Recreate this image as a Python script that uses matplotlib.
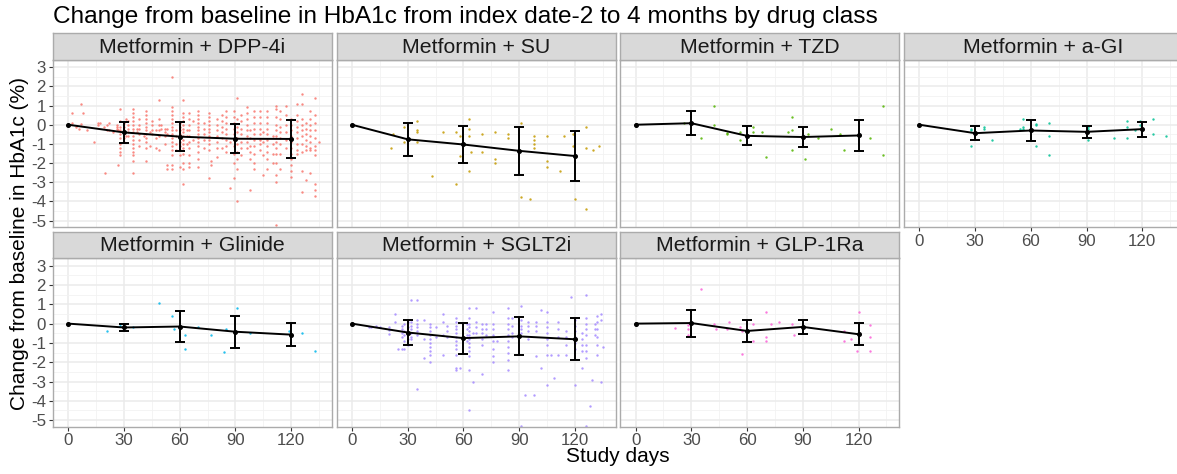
import matplotlib
matplotlib.use("Agg")
import matplotlib.pyplot as plt

plt.rcParams['font.family'] = ['Liberation Sans', 'DejaVu Sans']

# ---------------------------------------------------------------- data
visit_days = [0, 30, 60, 90, 120]

panel_titles = [
    "Metformin + DPP-4i", "Metformin + SU", "Metformin + TZD", "Metformin + a-GI",
    "Metformin + Glinide", "Metformin + SGLT2i", "Metformin + GLP-1Ra",
]
panel_colors = ["#F8766D", "#C49A00", "#53B400", "#00C094", "#00B6EB", "#A58AFF", "#FB61D7"]

# mean change and SD at each visit
dpp4i_mean = [0, -0.40, -0.62, -0.73, -0.74]
dpp4i_sd = [0, 0.55, 0.76, 0.75, 0.98]
su_mean = [0, -0.76, -1.03, -1.36, -1.63]
su_sd = [0, 0.86, 0.96, 1.24, 1.32]
tzd_mean = [0, 0.08, -0.58, -0.64, -0.56]
tzd_sd = [0, 0.63, 0.49, 0.54, 0.79]
agi_mean = [0, -0.44, -0.30, -0.37, -0.23]
agi_sd = [0, 0.37, 0.56, 0.32, 0.39]
glinide_mean = [0, -0.20, -0.15, -0.42, -0.57]
glinide_sd = [0, 0.17, 0.82, 0.82, 0.59]
sglt2i_mean = [0, -0.46, -0.75, -0.66, -0.81]
sglt2i_sd = [0, 0.63, 0.80, 0.99, 1.09]
glp1ra_mean = [0, 0.03, -0.38, -0.17, -0.55]
glp1ra_sd = [0, 0.70, 0.57, 0.38, 0.57]

# individual patient changes: (study day, [changes observed on that day])
dpp4i_pts = [
    (2, [0.6, 0.1]), (4, [-0.1]), (6, [-0.2]), (7, [1.1, 0.05]), (8, [0.6]),
    (10, [-0.25]), (14, [-0.9]), (16, [0.1, 0.0]), (17, [0.1]), (19, [-0.1]),
    (20, [-2.5]), (21, [-0.25, 0.0]), (22, [0.1, -0.3]), (24, [-0.4]),
    (26, [0.0, -0.1, -0.2]), (27, [-2.1, -0.3]),
    (28, [0.8, 0.2, -0.1, -0.3, -0.5, -0.7, -1.0, -1.2, -1.4, -1.6]),
    (30, [0.1, -0.1, -0.3, -0.5, -0.7, -0.9]), (31, [0.3, -0.6]),
    (32, [0.2, 0.0, -0.2, -0.4, -0.6]),
    (35, [0.8, 0.6, 0.4, 0.2, 0.0, -0.2, -0.4, -0.6, -0.8, -1.0, -1.2, -1.4, -1.6, -1.9, -2.5]),
    (37, [-0.2, -0.4]), (38, [0.3, 0.0, -0.2, -0.5, -0.8, -1.1]), (41, [-0.6]),
    (42, [0.7, 0.5, 0.3, 0.1, -0.1, -0.3, -0.5, -0.7, -0.9, -1.2, -1.9]),
    (44, [-1.1, -0.4]), (45, [0.2, 0.0, -0.3, -0.5]), (47, [-0.3, -0.7, -1.2]),
    (49, [1.3, 0.3, 0.0, -0.3, -0.6, -1.3]), (50, [0.0, -0.2]),
    (52, [-0.2, -0.4, -0.6, -1.0]), (53, [-0.2, -0.5, -2.1, -2.3]),
    (56, [2.5, 0.9, 0.7, 0.5, 0.3, 0.1, -0.1, -0.3, -0.5, -0.7, -0.9, -1.1, -1.3, -1.6, -2.1, -2.3]),
    (58, [-0.3, -0.6, -1.0, -1.3]),
    (60, [0.1, -0.1, -0.3, -0.5, -0.7, -0.9, -1.1, -1.3, -1.6, -2.2]),
    (62, [1.3, 0.6, 0.4, 0.2, 0.0, -0.2, -0.4, -0.6, -0.8, -1.0, -1.2, -1.5, -2.0, -2.3, -3.1]),
    (64, [-0.3, -0.6, -1.0]),
    (65, [0.6, 0.3, 0.0, -0.3, -0.6, -0.9, -1.2, -1.6, -2.0, -2.2]), (67, [0.2, -0.8]),
    (70, [0.7, 0.5, 0.3, 0.1, -0.1, -0.3, -0.5, -0.7, -0.9, -1.1, -1.4, -1.8, -2.2]),
    (73, [0.1, -0.2, -0.5, -0.8, -1.2]),
    (76, [0.6, 0.4, 0.2, 0.0, -0.2, -0.4, -0.6, -0.8, -1.0, -1.3, -2.8]), (77, [-1.9, -2.1]),
    (80, [0.3, 0.0, -0.3, -0.6, -0.9, -1.2, -1.7]),
    (83, [0.5, 0.2, -0.1, -0.4, -0.7, -1.2]),
    (85, [0.7, 0.4, 0.1, -0.2, -0.5, -0.8, -1.1, -1.4]), (87, [-3.3, -0.9]),
    (89, [0.7, 0.4, 0.1, -0.2, -0.5, -0.8, -1.1, -1.5, -2.0, -2.8]),
    (91, [1.4, 0.3, -0.1, -0.4, -0.7, -1.0, -1.4, -1.8, -2.3, -4.0]),
    (93, [0.5, 0.2, -0.2, -0.5, -0.9, -1.2, -1.6]),
    (96, [0.9, 0.6, 0.3, 0.0, -0.3, -0.6, -0.9, -1.2]),
    (98, [-0.3, -0.7, -1.1, -1.4, -1.8, -3.4]),
    (100, [0.7, 0.4, 0.1, -0.2, -0.5, -0.8, -1.1, -1.5, -2.0, -2.3]),
    (103, [0.7, 0.4, 0.1, -0.2, -0.5, -0.8, -1.0, -1.3]), (105, [-0.4, -0.9, -1.6, -2.6]),
    (107, [0.7, 0.4, 0.1, -0.2, -0.5, -0.8, -1.1, -1.4, -1.8, -2.3]),
    (110, [-0.6, -1.0, -1.5, -2.0]),
    (112, [1.0, 0.8, 0.4, 0.0, -0.3, -0.6, -0.9, -1.2, -1.5, -2.0, -2.6, -3.0, -5.2]),
    (114, [0.7, 0.3, -0.1, -0.4, -0.7, -1.0, -1.5, -2.3]),
    (117, [1.0, 0.5, 0.0, -0.4, -0.8, -1.2]),
    (120, [0.3, 0.0, -0.3, -0.6, -0.9, -1.2, -1.5, -1.8, -2.1, -2.4, -2.7]),
    (123, [1.1, 0.5, 0.2, -0.1, -0.4, -0.7, -1.0, -1.3, -1.5]),
    (126, [1.6, 1.1, 0.3, 0.0, -0.3, -0.6, -1.0, -1.4, -2.4, -3.5]),
    (128, [0.1, -0.2, -0.5, -0.8, -1.1, -1.3, -2.9]),
    (130, [0.7, 0.3, 0.0, -0.3, -0.6, -0.9, -1.2, -1.3, -2.5]),
    (133, [1.4, 0.5, 0.1, -0.3, -0.7, -1.1, -1.3, -1.6, -3.1, -3.4, -3.7]),
    (135, [-0.9]),
]

su_pts = [
    (21, [-1.19]), (22, [-0.5]), (28, [-0.1, -0.92]), (35, [0.19, -0.29, -0.4, -0.92]),
    (43, [-2.68]), (49, [-0.4]), (56, [-0.4, -3.1]), (58, [-0.6, -1.61]),
    (63, [0.28, -0.22, -0.6, -2.39]), (64, [-1.4]), (70, [-0.5, -1.4]),
    (77, [-0.4, -1.78, -1.99]), (84, [-0.5, -0.71]), (91, [0.09, -3.77]), (96, [-3.88]),
    (98, [-0.6, -0.81, -1.02, -1.21]), (105, [-0.6, -1.9, -2.2]), (112, [-2.39]),
    (114, [-0.6]), (119, [-0.5, -1.1]), (120, [-3.88]), (126, [-0.12, -1.21, -4.38]),
    (130, [-1.3]), (133, [-1.1]),
]

tzd_pts = [
    (26, [0.1]), (35, [-0.71]), (42, [0.99, 0.0]), (49, [-0.43, -0.5]), (56, [-0.4, -0.8]),
    (63, [-0.1, -0.4]), (68, [-0.4]), (70, [-1.7]), (82, [-0.4]), (84, [0.38, -0.29, -1.3]),
    (91, [-1.8]), (93, [-0.5]), (98, [-0.71]), (105, [-0.21]), (110, [-0.5]),
    (112, [-1.3]), (126, [-0.71]), (133, [0.99, -1.59]),
]

agi_pts = [
    (28, [-0.22, -0.29, -1.11]), (35, [-0.12, -0.22]), (39, [-0.8]), (54, [-0.22]),
    (56, [-0.12, 0.28, -0.22]), (63, [-0.02, 0.05, -1.11]), (70, [0.09, -0.61, -1.59]),
    (91, [-0.22, -0.12, -0.8]), (105, [-0.71]), (112, [0.19, -0.12, -0.71]),
    (116, [-0.29]), (119, [0.19, -0.02]), (126, [0.28, -0.5]), (133, [-0.61]),
]

glinide_pts = [
    (21, [-0.4]), (28, [0.0, -0.14]), (35, [-0.19]), (49, [1.09]), (56, [0.4]),
    (57, [-0.29]), (63, [-0.6, -1.3]), (70, [-0.19]), (77, [-0.6]), (84, [-1.49]),
    (85, [-0.29]), (91, [0.79]), (98, [-0.5]), (119, [-0.4]), (126, [-0.5]), (133, [-1.4]),
]

sglt2i_pts = [
    (9, [-0.15]), (10, [-0.2]), (13, [-0.1]), (15, [-0.15]), (20, [-0.2, -0.35, -0.55]),
    (23, [0.5, 0.1]), (25, [-1.3]), (27, [-0.1, -0.3, -0.5, -0.7, -1.3]),
    (28, [0.0, -0.4, -0.6, -0.9, -1.3]), (30, [0.1, -0.2, -0.5, -0.8, -1.1]),
    (32, [1.2, 0.1, -0.1, -0.3, -0.5, -0.7, -0.8]),
    (35, [1.2, 0.2, 0.0, -0.2, -0.4, -0.6, -3.4]), (39, [0.2, -0.8, -1.8]),
    (42, [0.0, -0.2, -0.4, -0.6, -0.8, -1.0, -1.2, -1.4, -1.6, -2.0]),
    (45, [-0.2, -0.7]), (49, [0.5, 0.1, -0.6, -1.6]), (51, [-0.1, -0.4, -0.7]),
    (56, [0.3, 0.1, -0.1, -0.3, -0.5, -0.7, -0.9, -1.1, -1.3, -1.6, -2.4, -2.3]),
    (58, [-2.3]), (62, [0.0, -0.3, -0.6, -0.9]),
    (63, [0.8, 0.3, 0.0, -0.2, -0.4, -0.6, -0.8, -1.0, -1.2, -1.4, -1.7, -2.4, -4.45]),
    (65, [-3.0, -0.5]), (67, [0.8, 0.1, -0.2, -0.5]),
    (70, [0.0, -0.3, -0.5, -0.8, -1.1, -2.6]), (72, [0.0, -0.3, -0.6]),
    (76, [0.6, 0.0, -0.3, -0.6, -0.9, -1.3, -1.7, -2.0]), (78, [-0.9]),
    (84, [0.8, 0.3, 0.0, -0.3, -0.6, -0.9, -1.2, -1.5, -1.9, -2.4]),
    (86, [0.3, -0.1, -0.5, -0.7]), (91, [0.9, 0.2, -0.1, -0.3, -0.5, -5.3]),
    (93, [-3.7]), (95, [0.1, -0.1, -0.4, -0.8]), (98, [-3.7]), (99, [0.1, -0.1, -0.4, -1.7]),
    (102, [0.7, -2.3]), (105, [0.6, 0.1, -0.2, -0.5, -0.8, -1.1, -1.6, -3.2]),
    (107, [-1.6]), (109, [-2.8]), (111, [0.1, -0.3, -0.7, -1.6]),
    (115, [-0.4, -0.7, -1.1, -1.6]), (118, [1.4]),
    (120, [0.2, -0.1, -0.4, -0.7, -1.0, -1.3, -3.2]), (124, [-0.5, -0.8, -1.1, -1.4, -2.3]),
    (126, [1.5, 0.3, 0.0, -0.3, -0.6, -1.1, -1.4, -1.8, -5.3]), (128, [-4.25]),
    (129, [-2.9]), (131, [0.0, -0.3, -0.6]), (132, [0.4, 0.1, -0.3, -0.7, -1.1, -1.6]),
    (134, [0.5, 0.2, -3.0]), (135, [-1.2]),
]

glp1ra_pts = [
    (21, [-0.21]), (28, [-0.09, -0.29, -0.59]), (35, [1.8]), (42, [0.0]), (43, [-0.29]),
    (49, [-0.29]), (50, [0.1]), (56, [-0.19]), (57, [-0.4, -1.59]), (63, [0.0, -0.9]),
    (70, [0.6, -0.69, -0.9]), (73, [0.0]), (77, [0.1]), (84, [0.0]), (85, [-0.59]),
    (112, [-0.4, -0.9]), (116, [-0.79]), (119, [-1.4]), (120, [0.6]),
    (126, [-0.09, -0.69, -1.4]),
]

x_ticks = [0, 30, 60, 90, 120]
y_ticks = [-5, -4, -3, -2, -1, 0, 1, 2, 3]

panel_points = [dpp4i_pts, su_pts, tzd_pts, agi_pts, glinide_pts, sglt2i_pts, glp1ra_pts]
panel_means = [dpp4i_mean, su_mean, tzd_mean, agi_mean, glinide_mean, sglt2i_mean, glp1ra_mean]
panel_sds = [dpp4i_sd, su_sd, tzd_sd, agi_sd, glinide_sd, sglt2i_sd, glp1ra_sd]

# ---------------------------------------------------------------- layout (pixels)
W, H = 1177, 474
fig = plt.figure(figsize=(W / 100, H / 100), dpi=100)
fig.patch.set_facecolor("white")

left0, pitch, pw = 53.0, 283.7, 279.0
rows = [(33.0, 59.5, 227.0), (231.5, 258.0, 426.5)]  # strip top, panel top, panel bottom


def frac_rect(x0, y0, x1, y1):
    return [x0 / W, 1 - y1 / H, (x1 - x0) / W, (y1 - y0) / H]


border_col = "#ABABAB"
tick_col = "#4D4D4D"
tick_fs = 12.2

for i, title in enumerate(panel_titles):
    r, c = divmod(i, 4)
    x0 = left0 + c * pitch
    x1 = x0 + pw
    s_top, p_top, p_bot = rows[r]

    ax = fig.add_axes(frac_rect(x0, p_top, x1, p_bot))
    ax.set_facecolor("white")
    ax.set_xlim(-8.2, 142)
    ax.set_ylim(-5.33, 3.4)
    ax.set_xticks(x_ticks)
    ax.set_xticks([15, 45, 75, 105, 135], minor=True)
    ax.set_yticks(y_ticks)
    ax.set_yticks([-4.5, -3.5, -2.5, -1.5, -0.5, 0.5, 1.5, 2.5], minor=True)
    ax.grid(which="major", color="#EBEBEB", lw=1.1)
    ax.grid(which="minor", color="#F2F2F2", lw=0.6)
    ax.set_axisbelow(True)
    for sp in ax.spines.values():
        sp.set_color(border_col)
        sp.set_linewidth(1.0)

    show_x = (r == 1) or (c == 3)
    show_y = (c == 0)
    ax.tick_params(which="minor", length=0)
    ax.tick_params(axis="x", which="major", length=3 if show_x else 0, width=0.8,
                   color="#333333", pad=2, labelsize=tick_fs, labelcolor=tick_col,
                   labelbottom=show_x)
    ax.tick_params(axis="y", which="major", length=3 if show_y else 0, width=0.8,
                   color="#333333", pad=2, labelsize=tick_fs, labelcolor=tick_col,
                   labelleft=show_y)
    ax.set_xticklabels([str(v) for v in x_ticks])
    ax.set_yticklabels([str(v) for v in y_ticks])

    # individual observations
    xs, ys = [], []
    for d, vals in panel_points[i]:
        xs.extend([d] * len(vals))
        ys.extend(vals)
    ax.scatter(xs, ys, s=3.0, color=panel_colors[i], alpha=0.85, linewidths=0, zorder=2)

    # mean trajectory with SD bars
    ax.plot(visit_days, panel_means[i], color="black", lw=1.4, zorder=4,
            marker="o", ms=2.6, solid_capstyle="round")
    ax.errorbar(visit_days[1:], panel_means[i][1:], yerr=panel_sds[i][1:], fmt="none",
                ecolor="black", elinewidth=1.4, capsize=3.8, capthick=1.4, zorder=4)

    # facet strip
    sax = fig.add_axes(frac_rect(x0, s_top, x1, p_top))
    sax.set_xticks([])
    sax.set_yticks([])
    sax.set_facecolor("#D9D9D9")
    for sp in sax.spines.values():
        sp.set_color(border_col)
        sp.set_linewidth(1.0)
    sax.text(0.5, 0.46, title, ha="center", va="center", fontsize=15.3,
             color="#1A1A1A", transform=sax.transAxes)

# titles
fig.text(53 / W, 1 - 23 / H, "Change from baseline in HbA1c from index date-2 to 4 months by drug class",
         ha="left", va="baseline", fontsize=17.6, color="black")
fig.text((left0 + (3 * pitch + pw) / 2) / W, 1 - 457 / H, "Study days",
         ha="center", va="center", fontsize=15.0, color="black")
fig.text(20 / W, 1 - 243 / H, "Change from baseline in HbA1c (%)", rotation=90,
         ha="center", va="center", fontsize=15.0, color="black")

fig.savefig("out.png", dpi=100, facecolor="white")
